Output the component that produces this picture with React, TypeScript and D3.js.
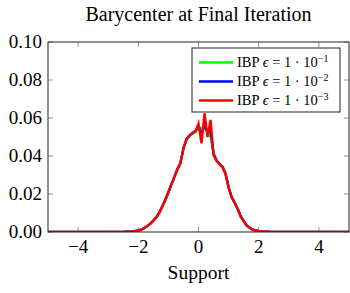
import React, { useRef, useEffect } from 'react';
import * as d3 from 'd3';

// support grid: -5..5, step 0.1; values outside [-2.5, 2.5] are zero
const supportMin = -5;
const supportMax = 5;
const supportStep = 0.1;

// non-zero part of each barycenter, x = -2.5 .. 2.5
const coreStart = -2.5;
const ibp1 = [
  0, 0.0001, 0.0002, 0.0003, 0.0005, 0.0008, 0.0013, 0.0021, 0.0031, 0.0044,
  0.006, 0.0079, 0.0104, 0.0136, 0.0171, 0.0211, 0.0248, 0.0292, 0.0328, 0.0365,
  0.0438, 0.0485, 0.0506, 0.0519, 0.0527, 0.0552, 0.0548, 0.0545, 0.0532, 0.0502,
  0.0415, 0.0378, 0.036, 0.0345, 0.0308, 0.0238, 0.0186, 0.0157, 0.0123, 0.0085,
  0.0059, 0.0036, 0.0022, 0.0013, 0.0008, 0.0005, 0.0003, 0.0002, 0.0001, 0, 0,
];
const ibp2 = [
  0, 0.0001, 0.0002, 0.0003, 0.0005, 0.0008, 0.0013, 0.0021, 0.0031, 0.0044,
  0.006, 0.0078, 0.0103, 0.0135, 0.017, 0.021, 0.025, 0.029, 0.0331, 0.0362,
  0.0441, 0.0488, 0.0508, 0.0522, 0.0532, 0.0555, 0.0515, 0.0565, 0.0522, 0.0535,
  0.0412, 0.0376, 0.0358, 0.0342, 0.0305, 0.0235, 0.0184, 0.0155, 0.0122, 0.0083,
  0.0058, 0.0035, 0.0022, 0.0013, 0.0008, 0.0005, 0.0003, 0.0002, 0.0001, 0, 0,
];
const ibp3 = [
  0, 0.0001, 0.0002, 0.0003, 0.0005, 0.0008, 0.0013, 0.0021, 0.0031, 0.0044,
  0.006, 0.0077, 0.0102, 0.0134, 0.017, 0.0209, 0.0251, 0.0289, 0.0332, 0.0361,
  0.0442, 0.0489, 0.0509, 0.052, 0.0529, 0.057, 0.0467, 0.0625, 0.05, 0.059,
  0.0405, 0.0375, 0.0358, 0.0341, 0.0304, 0.0234, 0.0183, 0.0154, 0.0121, 0.0082,
  0.0057, 0.0035, 0.0022, 0.0013, 0.0008, 0.0005, 0.0003, 0.0002, 0.0001, 0, 0,
];

const seriesNames = ['1', '2', '3'];
const seriesColors = ['#00ff00', '#0000ff', '#ff0000'];
const seriesValues = [ibp1, ibp2, ibp3];

const xTicks = [-4, -2, 0, 2, 4];
const yTicks = [0, 0.02, 0.04, 0.06, 0.08, 0.1];

const width = 350;
const height = 293;
const margin = { top: 42, right: 1, bottom: 61, left: 48 };
const serif = '"Liberation Serif", "DejaVu Serif", serif';

function buildSeries(core: number[]) {
  const n = Math.round((supportMax - supportMin) / supportStep) + 1;
  const points: Array<[number, number]> = [];
  for (let i = 0; i < n; i++) {
    const x = supportMin + i * supportStep;
    const k = Math.round((x - coreStart) / supportStep);
    const y = k >= 0 && k < core.length ? core[k] : 0;
    points.push([x, y]);
  }
  return points;
}

export default function App() {
  const svgRef = useRef<SVGSVGElement>(null);

  useEffect(() => {
    if (!svgRef.current) return;
    const svg = d3.select(svgRef.current);
    svg.selectAll('*').remove();

    const innerWidth = width - margin.left - margin.right;
    const innerHeight = height - margin.top - margin.bottom;

    const x = d3.scaleLinear().domain([supportMin, supportMax]).range([0, innerWidth]);
    const y = d3.scaleLinear().domain([0, 0.1]).range([innerHeight, 0]);

    const g = svg.append('g').attr('transform', `translate(${margin.left},${margin.top})`);

    // title
    svg.append('text')
      .attr('x', margin.left + innerWidth / 2)
      .attr('y', 21)
      .attr('text-anchor', 'middle')
      .attr('font-family', serif)
      .attr('font-size', 20)
      .text('Barycenter at Final Iteration');

    // clip for curves
    svg.append('defs').append('clipPath').attr('id', 'plot-clip')
      .append('rect').attr('width', innerWidth).attr('height', innerHeight + 2).attr('y', -2);

    // ticks, inward on all four sides
    const tickLen = 5;
    const tickColor = '#777';
    xTicks.forEach(t => {
      g.append('line').attr('x1', x(t)).attr('x2', x(t)).attr('y1', innerHeight).attr('y2', innerHeight - tickLen)
        .attr('stroke', tickColor).attr('stroke-width', 0.8);
      g.append('line').attr('x1', x(t)).attr('x2', x(t)).attr('y1', 0).attr('y2', tickLen)
        .attr('stroke', tickColor).attr('stroke-width', 0.8);
      g.append('text')
        .attr('x', x(t))
        .attr('y', innerHeight + 21)
        .attr('text-anchor', 'middle')
        .attr('font-family', serif)
        .attr('font-size', 19)
        .text(t < 0 ? `\u2212${Math.abs(t)}` : `${t}`);
    });
    yTicks.forEach(t => {
      g.append('line').attr('x1', 0).attr('x2', tickLen).attr('y1', y(t)).attr('y2', y(t))
        .attr('stroke', tickColor).attr('stroke-width', 0.8);
      g.append('line').attr('x1', innerWidth).attr('x2', innerWidth - tickLen).attr('y1', y(t)).attr('y2', y(t))
        .attr('stroke', tickColor).attr('stroke-width', 0.8);
      g.append('text')
        .attr('x', -6)
        .attr('y', y(t) + 6)
        .attr('text-anchor', 'end')
        .attr('font-family', serif)
        .attr('font-size', 19)
        .text(d3.format('.2f')(t));
    });

    // curves
    const line = d3.line<[number, number]>()
      .x(d => x(d[0]))
      .y(d => y(d[1]));
    const curves = g.append('g').attr('clip-path', 'url(#plot-clip)');
    seriesValues.forEach((vals, i) => {
      curves.append('path')
        .datum(buildSeries(vals))
        .attr('fill', 'none')
        .attr('stroke', seriesColors[i])
        .attr('stroke-width', 2.4)
        .attr('stroke-linejoin', 'miter')
        .attr('d', line);
    });

    // frame
    g.append('rect')
      .attr('width', innerWidth)
      .attr('height', innerHeight)
      .attr('fill', 'none')
      .attr('stroke', '#222')
      .attr('stroke-width', 1);

    // x label
    svg.append('text')
      .attr('x', margin.left + innerWidth / 2)
      .attr('y', 279)
      .attr('text-anchor', 'middle')
      .attr('font-family', serif)
      .attr('font-size', 19.5)
      .text('Support');

    // legend
    const legend = svg.append('g').attr('transform', 'translate(192,48)');
    legend.append('rect')
      .attr('width', 148)
      .attr('height', 64)
      .attr('fill', 'white')
      .attr('stroke', '#222')
      .attr('stroke-width', 1);
    seriesNames.forEach((name, i) => {
      const cy = 14.5 + i * 19;
      legend.append('line')
        .attr('x1', 7).attr('x2', 41).attr('y1', cy).attr('y2', cy)
        .attr('stroke', seriesColors[i]).attr('stroke-width', 2.4);
      const txt = legend.append('text')
        .attr('x', 45)
        .attr('y', cy + 4.5)
        .attr('font-family', serif)
        .attr('font-size', 14.5);
      txt.append('tspan').text('IBP ');
      txt.append('tspan').attr('font-style', 'italic').text('\u03F5');
      txt.append('tspan').text(' = 1 \u00B7 10');
      txt.append('tspan').attr('dy', -5.5).attr('font-size', 10).text(`\u2212${name}`);
    });
  }, []);

  return (
    <div style={{ position: 'absolute', left: 0, top: 0, width, height, background: 'white' }}>
      <svg ref={svgRef} width={width} height={height} />
    </div>
  );
}
